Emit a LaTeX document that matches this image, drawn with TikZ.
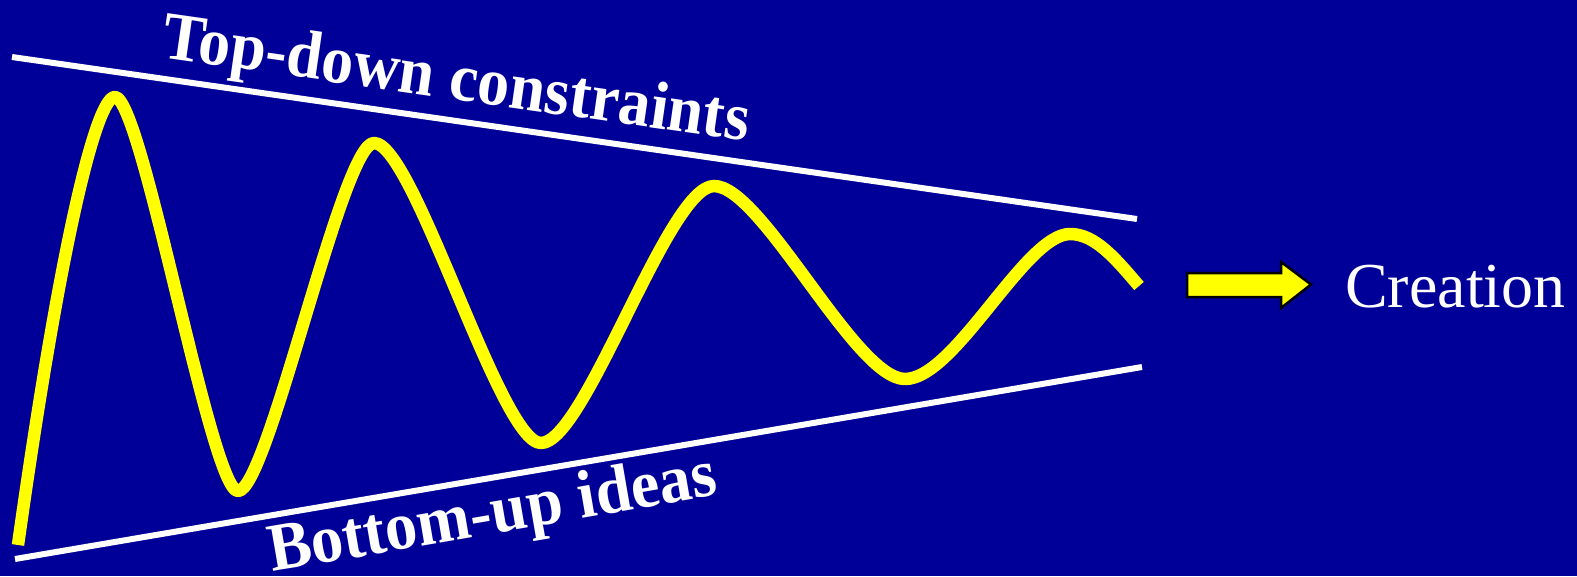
\documentclass[tikz,border=0pt]{standalone}
\usepackage{fontspec}
\setmainfont{Liberation Serif}
\definecolor{bgblue}{RGB}{0,0,153}
\definecolor{wavey}{RGB}{255,255,0}
\begin{document}
\begin{tikzpicture}[x=1pt,y=-1pt,
  guide/.style={white,line width=6pt},
  wave/.style={wavey,line width=12.5pt,line cap=butt,line join=round},
  bigtxt/.style={white,inner sep=0pt,font=\fontsize{68}{74}\selectfont\bfseries},
  arrowshape/.style={fill=wavey,draw=black,line width=2.5pt,line join=miter}]
\fill[bgblue] (0,0) rectangle (1577,576);
\useasboundingbox (0,0) rectangle (1577,576);
% guide lines
\coordinate (t1) at (12,57);
\coordinate (t2) at (1137,219);
\coordinate (b1) at (15,559);
\coordinate (b2) at (1142,367);
\draw[guide] (t1) -- (t2);
\draw[guide] (b1) -- (b2);
% labels
\node[bigtxt,anchor=base west,rotate=-8.2,xscale=0.94] (toplab) at (160,57) {Top-down constraints};
\node[bigtxt,anchor=base west,rotate=9.8,xscale=0.95] (botlab) at (272,572) {Bottom-up ideas};
% wave
\draw[wave] (18,545) .. controls (62,232) and (97,97) .. (115,97)
  .. controls (142,97) and (211,491) .. (238,491)
  .. controls (268,491) and (342,143) .. (374,143)
  .. controls (414,143) and (500,443) .. (541,443)
  .. controls (585,443) and (668,186) .. (714,186)
  .. controls (762,186) and (855,379) .. (905,379)
  .. controls (955,379) and (1025,234) .. (1070,234)
  .. controls (1095,234) and (1115,258) .. (1139,286);
% arrow
\draw[arrowshape] (1187,273) -- (1281,273) -- (1281,262) -- (1311,284.5)
  -- (1281,308) -- (1281,297) -- (1187,297) -- cycle;
\node[white,inner sep=0pt,anchor=base west,font=\fontsize{64}{70}\selectfont] (creation) at (1345,307) {Creation};
\end{tikzpicture}
\end{document}
